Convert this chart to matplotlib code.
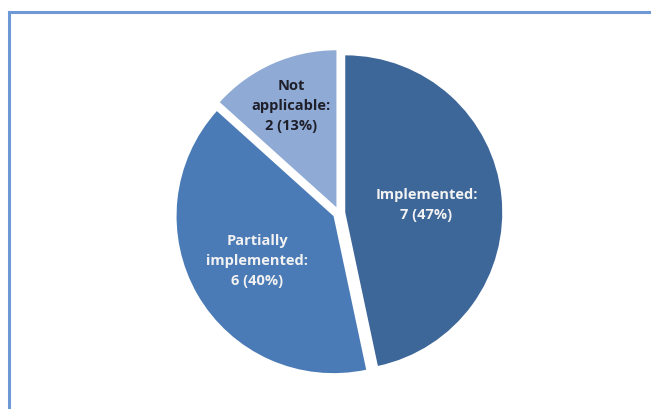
import matplotlib
matplotlib.use("Agg")
import matplotlib.pyplot as plt
import numpy as np
from matplotlib.lines import Line2D

# data
categories = ["Implemented", "Partially\nimplemented", "Not\napplicable"]
counts = [7, 6, 2]
colors = ["#3d6699", "#4a7bb6", "#8eaad5"]
text_colors = ["#f2f2f2", "#f2f2f2", "#1f1f2a"]
label_dist = [0.52, 0.56, 0.71]

total = sum(counts)
labels = [f"{c}:\n{n} ({round(100 * n / total)}%)" for c, n in zip(categories, counts)]

W, H = 651, 410
fig = plt.figure(figsize=(W / 100, H / 100), dpi=100)
fig.patch.set_facecolor("white")

# frame around the chart (left and top edges visible)
bc = "#6f98d6"
fig.add_artist(Line2D([9 / W, 9 / W], [0, 1 - 13 / H], color=bc, lw=2.2, transform=fig.transFigure))
fig.add_artist(Line2D([9 / W, 1], [1 - 13 / H, 1 - 13 / H], color=bc, lw=2.2, transform=fig.transFigure))

cx, cy, R = 339, 214, 157
half = 1.1 * R
ax = fig.add_axes([(cx - half) / W, (H - cy - half) / H, 2 * half / W, 2 * half / H])
wedges, _ = ax.pie(counts, colors=colors, startangle=90, counterclock=False,
                   explode=[0.04, 0.04, 0.04], radius=1,
                   wedgeprops=dict(linewidth=0))
ax.set_xlim(-1.1, 1.1)
ax.set_ylim(-1.1, 1.1)
ax.set_aspect("equal")
ax.axis("off")

for w, lab, d, tc in zip(wedges, labels, label_dist, text_colors):
    ang = np.deg2rad((w.theta1 + w.theta2) / 2)
    cxw, cyw = w.center
    ax.text(cxw + d * np.cos(ang), cyw + d * np.sin(ang), lab, ha="center", va="center",
            color=tc, fontsize=10.5, fontweight="bold", family="Open Sans", linespacing=1.55)

fig.savefig("out.png", dpi=100)
